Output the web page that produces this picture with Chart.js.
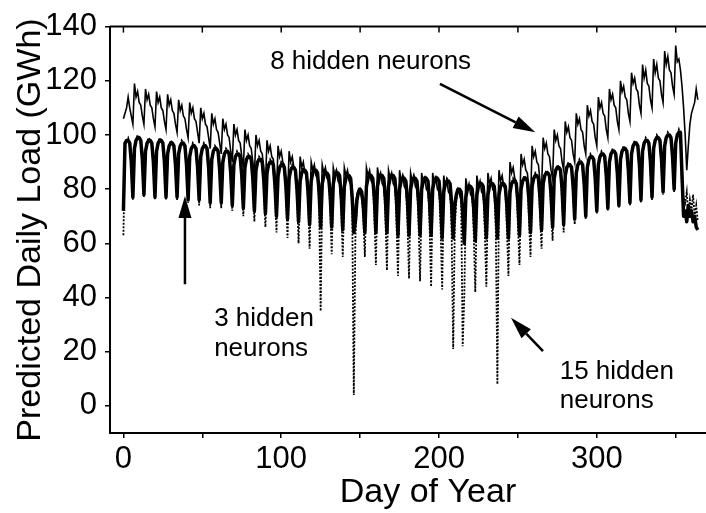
<!DOCTYPE html>
<html>
<head>
<meta charset="utf-8">
<script src="https://cdn.jsdelivr.net/npm/chart.js@4.4.1/dist/chart.umd.min.js"></script>
<style>
  body { margin: 0; background: #fff; }
  canvas { display: block; }
</style>
</head>
<body>
<canvas id="chart" width="706" height="513"></canvas>
<script>
// day of year (x categories)
const days = Array.from({ length: 365 }, (_, i) => i);

// x ticks: marks every 50 days, labels every 100
const xTickMarks = [0, 50, 100, 150, 200, 250, 300, 350];
const xTickLabels = [0, 100, 200, 300];
const yTicks = [0, 20, 40, 60, 80, 100, 120, 140];

// predicted daily load (GWh), one row per week (Mon..Sun)
const load8 = [
    [106, 108, 110, 114, 110, 107, 104],
    [119, 114, 116, 112, 111, 107, 104],
    [117, 113, 115, 111, 110, 106, 103],
    [116, 112, 114, 110, 109, 105, 102],
    [115, 111, 113, 109, 108, 104, 101],
    [113, 109, 111, 107, 106, 102, 99],
    [112, 108, 110, 106, 105, 101, 97],
    [110, 106, 108, 104, 103, 99, 95],
    [108, 104, 106, 102, 101, 97, 93],
    [106, 102, 104, 100, 99, 94, 90],
    [104, 100, 102, 98, 97, 92, 88],
    [102, 98, 100, 96, 95, 90, 85],
    [100, 96, 98, 94, 93, 87, 82],
    [98, 94, 96, 92, 91, 85, 79],
    [96, 92, 94, 90, 89, 83, 76],
    [94, 90, 92, 88, 87, 80, 72],
    [92, 88, 90, 86, 85, 78, 70],
    [90, 87, 89, 85, 84, 77, 68],
    [89, 86, 88, 84, 83, 76, 68],
    [88, 85, 87, 83, 82, 75, 67],
    [88, 85, 87, 83, 82, 75, 67],
    [74, 78, 80, 79, 77, 72, 66],
    [88, 85, 87, 83, 82, 75, 66],
    [88, 84, 86, 82, 81, 74, 66],
    [87, 84, 86, 82, 81, 74, 65],
    [87, 83, 85, 81, 80, 73, 65],
    [86, 83, 85, 81, 80, 73, 65],
    [86, 82, 84, 80, 79, 72, 64],
    [86, 82, 84, 80, 79, 72, 64],
    [85, 81, 83, 79, 78, 71, 62],
    [76, 78, 80, 78, 76, 68, 62],
    [84, 80, 82, 78, 77, 70, 63],
    [85, 81, 83, 79, 78, 71, 64],
    [86, 82, 84, 80, 79, 72, 64],
    [87, 83, 85, 81, 80, 73, 66],
    [90, 86, 88, 84, 83, 76, 70],
    [93, 89, 91, 87, 86, 80, 75],
    [96, 92, 94, 90, 89, 83, 80],
    [99, 95, 97, 93, 92, 87, 84],
    [102, 98, 100, 96, 95, 90, 87],
    [105, 101, 103, 99, 98, 93, 90],
    [108, 104, 106, 102, 101, 96, 93],
    [111, 107, 109, 105, 104, 99, 96],
    [114, 110, 112, 108, 107, 102, 99],
    [117, 113, 115, 111, 110, 105, 102],
    [120, 116, 118, 114, 113, 108, 105],
    [123, 119, 121, 117, 116, 111, 108],
    [126, 121, 124, 119, 118, 113, 110],
    [128, 123, 126, 121, 120, 115, 112],
    [131, 126, 129, 124, 123, 118, 115],
    [133, 127, 128, 124, 118, 110, 100],
    [87, 96, 104, 108, 110, 112, 117],
    [113]
].flat();

const load3 = [
    [72, 97, 98, 98, 97, 90, 77],
    [95, 98, 99, 99, 98, 91, 78],
    [94, 97, 98, 98, 97, 90, 77],
    [94, 97, 98, 98, 97, 90, 77],
    [93, 96, 97, 97, 96, 89, 77],
    [93, 96, 97, 97, 96, 89, 76],
    [92, 95, 96, 96, 95, 88, 76],
    [92, 95, 96, 96, 95, 88, 75],
    [91, 94, 95, 95, 94, 87, 75],
    [90, 93, 94, 94, 93, 86, 74],
    [89, 92, 93, 93, 92, 85, 73],
    [88, 91, 92, 92, 91, 84, 72],
    [87, 90, 91, 91, 90, 83, 71],
    [86, 89, 90, 90, 89, 82, 70],
    [85, 88, 89, 89, 88, 81, 69],
    [84, 87, 88, 88, 87, 80, 68],
    [83, 86, 87, 87, 86, 79, 67],
    [83, 86, 87, 87, 86, 79, 66],
    [82, 85, 86, 86, 85, 78, 66],
    [82, 85, 86, 86, 85, 78, 65],
    [81, 84, 85, 85, 84, 77, 64],
    [68, 76, 79, 80, 79, 74, 64],
    [81, 84, 85, 85, 84, 77, 64],
    [81, 84, 85, 85, 84, 77, 64],
    [81, 84, 85, 85, 84, 77, 63],
    [80, 83, 84, 84, 83, 76, 63],
    [80, 83, 84, 84, 83, 76, 63],
    [80, 83, 84, 84, 83, 76, 63],
    [80, 83, 84, 84, 83, 76, 62],
    [79, 82, 83, 83, 82, 75, 62],
    [74, 78, 80, 80, 79, 72, 60],
    [77, 80, 81, 81, 80, 73, 61],
    [78, 81, 82, 82, 81, 74, 62],
    [78, 81, 82, 82, 81, 74, 62],
    [78, 81, 82, 82, 81, 74, 62],
    [79, 82, 83, 83, 82, 75, 63],
    [80, 83, 84, 84, 83, 76, 64],
    [81, 84, 85, 85, 84, 77, 65],
    [82, 85, 86, 86, 85, 78, 66],
    [84, 87, 88, 88, 87, 80, 67],
    [85, 88, 89, 89, 88, 81, 69],
    [86, 89, 90, 90, 89, 82, 70],
    [88, 91, 92, 92, 91, 84, 72],
    [89, 92, 93, 93, 92, 85, 73],
    [90, 93, 94, 94, 93, 86, 74],
    [91, 94, 95, 95, 94, 87, 75],
    [93, 96, 97, 97, 96, 89, 76],
    [94, 97, 98, 98, 97, 90, 77],
    [95, 98, 99, 99, 98, 91, 79],
    [96, 99, 100, 100, 99, 92, 80],
    [97, 100, 101, 101, 85, 70, 72],
    [68, 74, 70, 72, 68, 70, 66],
    [65]
].flat();

const load15 = [
    [63, 96, 98, 99, 97, 89, 76],
    [94, 98, 100, 99, 97, 90, 77],
    [93, 97, 99, 98, 96, 89, 76],
    [93, 97, 99, 98, 96, 89, 76],
    [92, 96, 98, 97, 95, 88, 76],
    [92, 96, 98, 97, 95, 88, 75],
    [91, 95, 97, 96, 94, 87, 74],
    [91, 95, 97, 96, 94, 87, 73],
    [90, 94, 96, 95, 93, 86, 73],
    [89, 93, 95, 94, 92, 84, 72],
    [88, 92, 94, 93, 91, 83, 70],
    [87, 91, 93, 92, 90, 82, 68],
    [86, 90, 92, 91, 89, 80, 66],
    [85, 89, 91, 90, 88, 79, 64],
    [84, 88, 90, 89, 87, 78, 62],
    [83, 87, 89, 88, 86, 77, 60],
    [82, 86, 88, 87, 85, 76, 58],
    [82, 86, 88, 87, 85, 75, 35],
    [80, 85, 87, 86, 84, 74, 56],
    [81, 85, 87, 86, 84, 74, 55],
    [80, 84, 86, 85, 83, 72, 4],
    [62, 74, 79, 80, 78, 70, 55],
    [80, 84, 86, 85, 83, 71, 52],
    [80, 84, 86, 85, 83, 70, 50],
    [80, 84, 86, 85, 83, 69, 48],
    [79, 83, 85, 84, 82, 68, 47],
    [79, 83, 85, 84, 82, 68, 46],
    [79, 83, 85, 84, 82, 67, 44],
    [79, 83, 85, 84, 82, 66, 43],
    [78, 82, 84, 83, 81, 64, 21],
    [66, 76, 80, 80, 78, 22, 40],
    [75, 80, 82, 81, 79, 64, 42],
    [77, 81, 83, 82, 80, 65, 44],
    [77, 81, 83, 82, 80, 65, 8],
    [77, 81, 83, 82, 80, 66, 48],
    [78, 82, 84, 83, 81, 67, 52],
    [79, 83, 85, 84, 82, 69, 55],
    [80, 84, 86, 85, 83, 71, 58],
    [81, 85, 87, 86, 84, 73, 61],
    [83, 87, 89, 88, 86, 76, 64],
    [84, 88, 90, 89, 87, 78, 67],
    [85, 89, 91, 90, 88, 80, 69],
    [87, 91, 93, 92, 90, 82, 71],
    [88, 92, 94, 93, 91, 83, 72],
    [89, 93, 95, 94, 92, 84, 73],
    [90, 94, 96, 95, 93, 85, 74],
    [92, 96, 98, 97, 95, 87, 75],
    [93, 97, 99, 98, 96, 88, 76],
    [94, 98, 100, 99, 97, 89, 78],
    [95, 99, 101, 100, 98, 90, 79],
    [96, 100, 102, 100, 80, 77, 75],
    [79, 70, 76, 72, 78, 70, 74],
    [68]
].flat();

const FONT = '"Liberation Sans", Arial, Helvetica, sans-serif';

// text notes and arrows, in data units
const notes = [
    { text: "8 hidden neurons", x: 93, y: 124.5 },
    { text: "3 hidden", x: 57.5, y: 29.5 },
    { text: "neurons", x: 57.5, y: 18.3 },
    { text: "15 hidden", x: 276.5, y: 10.0 },
    { text: "neurons", x: 276.5, y: -0.9 }
];
const arrows = [
    { from: [200.6, 118.9], to: [261, 101] },
    { from: [39, 44.9], to: [39, 77.5] },
    { from: [265.9, 20.2], to: [245.6, 32.5] }
];

function drawArrow(ctx, x1, y1, x2, y2) {
    const ang = Math.atan2(y2 - y1, x2 - x1);
    const len = 22, half = 6.5;
    const bx = x2 - len * Math.cos(ang), by = y2 - len * Math.sin(ang);
    ctx.lineWidth = 2.5;
    ctx.beginPath();
    ctx.moveTo(x1, y1);
    ctx.lineTo(bx, by);
    ctx.stroke();
    ctx.beginPath();
    ctx.moveTo(x2, y2);
    ctx.lineTo(bx + half * Math.sin(ang), by - half * Math.cos(ang));
    ctx.lineTo(bx - half * Math.sin(ang), by + half * Math.cos(ang));
    ctx.closePath();
    ctx.fill();
}

const extras = {
    id: "extras",
    afterDraw(chart) {
        const { ctx, chartArea: a, scales: { x, y } } = chart;
        ctx.save();
        ctx.strokeStyle = "#000";
        ctx.fillStyle = "#000";

        // top frame with inward ticks
        ctx.lineWidth = 2;
        ctx.beginPath();
        ctx.moveTo(a.left, a.top);
        ctx.lineTo(a.right, a.top);
        ctx.stroke();
        ctx.lineWidth = 1.5;
        xTickMarks.forEach(v => {
            const px = x.getPixelForValue(v);
            ctx.beginPath();
            ctx.moveTo(px, a.top);
            ctx.lineTo(px, a.top + 6);
            ctx.stroke();
        });

        // notes
        ctx.font = "26px " + FONT;
        ctx.textAlign = "left";
        ctx.textBaseline = "alphabetic";
        notes.forEach(n => ctx.fillText(n.text, x.getPixelForValue(n.x), y.getPixelForValue(n.y)));
        arrows.forEach(r => drawArrow(ctx,
            x.getPixelForValue(r.from[0]), y.getPixelForValue(r.from[1]),
            x.getPixelForValue(r.to[0]), y.getPixelForValue(r.to[1])));

        // axis titles
        ctx.font = "34px " + FONT;
        ctx.textAlign = "center";
        ctx.fillText("Day of Year", 428, 502);
        ctx.translate(40, 230);
        ctx.rotate(-Math.PI / 2);
        ctx.fillText("Predicted Daily Load (GWh)", 0, 0);
        ctx.restore();
    }
};

new Chart(document.getElementById("chart"), {
    type: "line",
    data: {
        labels: days,
        datasets: [
            {
                label: "3 hidden neurons",
                data: load3,
                borderColor: "#000",
                borderWidth: 3.5,
                borderJoinStyle: "round",
                pointRadius: 0,
                order: 1
            },
            {
                label: "8 hidden neurons",
                data: load8,
                borderColor: "#000",
                borderWidth: 1.6,
                pointRadius: 0,
                order: 2
            },
            {
                label: "15 hidden neurons",
                data: load15,
                borderColor: "#000",
                borderWidth: 1.8,
                borderDash: [2, 1.5],
                pointRadius: 0,
                order: 3
            }
        ]
    },
    options: {
        responsive: false,
        animation: false,
        layout: { padding: { top: 20, right: 0, left: 0, bottom: 0 } },
        plugins: { legend: { display: false }, tooltip: { enabled: false } },
        scales: {
            x: {
                type: "linear",
                min: -8.5,
                max: 369.2,
                afterBuildTicks: s => { s.ticks = xTickMarks.map(v => ({ value: v })); },
                afterFit: s => { s.height = 80; },
                ticks: {
                    callback: v => xTickLabels.includes(v) ? String(v) : "",
                    font: { family: FONT, size: 31 },
                    color: "#000",
                    padding: 3,
                    maxRotation: 0,
                    autoSkip: false
                },
                grid: { drawOnChartArea: false, tickLength: 5, color: "#000", lineWidth: 1.5 },
                border: { color: "#000", width: 2 }
            },
            y: {
                min: -10,
                max: 140,
                afterBuildTicks: s => { s.ticks = yTicks.map(v => ({ value: v })); },
                afterFit: s => { s.width = 110; },
                ticks: {
                    font: { family: FONT, size: 31 },
                    color: "#000",
                    padding: 8
                },
                grid: { drawOnChartArea: false, tickLength: 5, color: "#000", lineWidth: 1.5 },
                border: { color: "#000", width: 2 }
            }
        }
    },
    plugins: [extras]
});
</script>
</body>
</html>
